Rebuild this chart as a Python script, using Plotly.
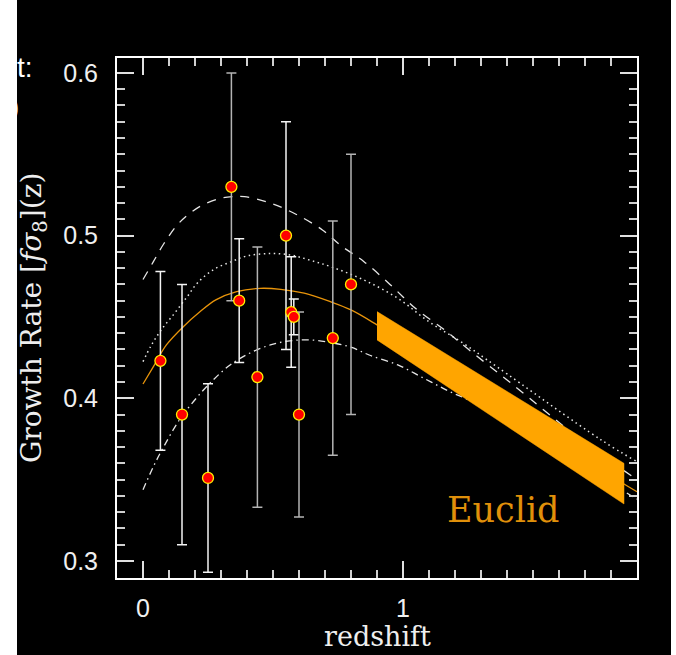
import plotly.graph_objects as go

# ---------------- data ----------------
z_obs = [0.067, 0.15, 0.25, 0.34, 0.37, 0.44, 0.55, 0.57, 0.58, 0.60, 0.73, 0.80]
fs8_obs = [0.423, 0.390, 0.351, 0.530, 0.460, 0.413, 0.500, 0.453, 0.450, 0.390, 0.437, 0.470]
err_obs = [0.055, 0.080, 0.058, 0.070, 0.038, 0.080, 0.070, 0.034, 0.011, 0.063, 0.072, 0.080]
bar_group = ["w", "w", "w", "g", "w", "g", "w", "w", "w", "g", "g", "g"]

z_dashed = [0.0, 0.04, 0.08, 0.14, 0.22, 0.30, 0.35, 0.39, 0.49, 0.59, 0.69, 0.76, 0.85, 0.95,
            1.05, 1.16, 1.26, 1.41, 1.68, 1.9]
fs8_dashed = [0.473, 0.484, 0.495, 0.508, 0.518, 0.523, 0.524, 0.524, 0.520, 0.513, 0.5035, 0.494,
              0.484, 0.470, 0.455, 0.442, 0.429, 0.410, 0.375, 0.350]

z_dotted = [0.0, 0.03, 0.07, 0.12, 0.17, 0.21, 0.27, 0.34, 0.40, 0.49, 0.57, 0.64, 0.72, 0.85,
            0.98, 1.10, 1.23, 1.36, 1.76, 1.9]
fs8_dotted = [0.4225, 0.432, 0.442, 0.452, 0.4625, 0.471, 0.479, 0.484, 0.4875, 0.489, 0.488,
              0.485, 0.481, 0.4727, 0.4615, 0.447, 0.434, 0.4195, 0.3746, 0.361]

z_solid = [0.0, 0.04, 0.09, 0.155, 0.22, 0.28, 0.36, 0.45, 0.53, 0.62, 0.72, 0.80, 0.90, 1.85, 1.9]
fs8_solid = [0.4088, 0.4195, 0.4328, 0.444, 0.4533, 0.4605, 0.4656, 0.4676, 0.467, 0.4646, 0.4594,
             0.4543, 0.4451, 0.3473, 0.3426]

z_dashdot = [0.0, 0.04, 0.08, 0.14, 0.21, 0.27, 0.335, 0.41, 0.49, 0.565, 0.64, 0.72, 0.80, 0.87,
             0.98, 1.08, 1.18, 1.28, 1.39, 1.9]
fs8_dashdot = [0.3437, 0.358, 0.3703, 0.3867, 0.401, 0.4113, 0.4205, 0.4277, 0.4328, 0.4353,
               0.4359, 0.4343, 0.4314, 0.4266, 0.4205, 0.4123, 0.4041, 0.397, 0.3867, 0.338]

band_z = [0.9, 1.85]
band_upper = [0.4533, 0.360]
band_lower = [0.4359, 0.335]

x_ticks = [0, 1]
x_ticklabels = ["0", "1"]
y_ticks = [0.3, 0.4, 0.5, 0.6]
y_ticklabels = ["0.3", "0.4", "0.5", "0.6"]

# ---------------- figure ----------------
fig = go.Figure()

curve_col = "#e6e6e6"
fig.add_trace(go.Scatter(x=z_dashed, y=fs8_dashed, mode="lines", line_shape="spline",
                         line=dict(color=curve_col, width=1.3, dash="9px,8px"), hoverinfo="skip"))
fig.add_trace(go.Scatter(x=z_dotted, y=fs8_dotted, mode="lines", line_shape="spline",
                         line=dict(color=curve_col, width=1.5, dash="1.5px,3.5px"), hoverinfo="skip"))
fig.add_trace(go.Scatter(x=z_solid, y=fs8_solid, mode="lines", line_shape="spline",
                         line=dict(color="#e8940a", width=1.3), hoverinfo="skip"))
fig.add_trace(go.Scatter(x=z_dashdot, y=fs8_dashdot, mode="lines", line_shape="spline",
                         line=dict(color=curve_col, width=1.3, dash="7px,4px,1.5px,4px"), hoverinfo="skip"))

# Euclid band
fig.add_trace(go.Scatter(x=band_z + band_z[::-1], y=band_upper + band_lower[::-1],
                         mode="lines", fill="toself", fillcolor="#ffa500",
                         line=dict(color="#ffa500", width=0.5), hoverinfo="skip"))

# error bars
for grp, col in (("w", "#f4f4f4"), ("g", "#b4b4b4")):
    xs = [z for z, g in zip(z_obs, bar_group) if g == grp]
    ys = [v for v, g in zip(fs8_obs, bar_group) if g == grp]
    es = [e for e, g in zip(err_obs, bar_group) if g == grp]
    fig.add_trace(go.Scatter(x=xs, y=ys, mode="markers",
                             marker=dict(size=1, opacity=0),
                             error_y=dict(type="data", array=es, visible=True, color=col,
                                          thickness=1.5, width=5),
                             hoverinfo="skip"))

fig.add_trace(go.Scatter(x=z_obs, y=fs8_obs, mode="markers",
                         marker=dict(size=11, color="#ff0000", line=dict(color="#ffee00", width=1.3)),
                         hoverinfo="skip"))

L, R, T, B = 117, 39, 58, 77
W, H = 676, 655
pw, ph = W - L - R, H - T - B

axis_common = dict(showline=True, linecolor="#ffffff", linewidth=2, mirror="allticks",
                   ticks="inside", ticklen=17, tickwidth=1.5, tickcolor="#e0e0e0",
                   showgrid=False, zeroline=False,
                   tickfont=dict(family="Liberation Sans", size=25, color="#f0f0f0"))

fig.update_xaxes(range=[-0.1, 1.9], tickmode="array", tickvals=x_ticks, ticktext=x_ticklabels,
                 minor=dict(dtick=0.1, tick0=0, ticks="inside", ticklen=8, tickwidth=1.5,
                            tickcolor="#d0d0d0", showgrid=False),
                 ticklabelstandoff=7, **axis_common)
fig.update_yaxes(range=[0.2895, 0.6092], tickmode="array", tickvals=y_ticks, ticktext=y_ticklabels,
                 minor=dict(dtick=0.01, tick0=0, ticks="inside", ticklen=8, tickwidth=1.5,
                            tickcolor="#d0d0d0", showgrid=False),
                 ticklabelstandoff=12, **axis_common)

annotations = [
    dict(text="Growth Rate [<i>f</i><i>σ</i><sub>8</sub>](z)", xref="paper", yref="paper",
         x=(33 - L) / pw, y=(H - B - 318) / ph, xanchor="center", yanchor="middle", textangle=-90,
         showarrow=False, font=dict(family="DejaVu Serif", size=28, color="#eeeeee")),
    dict(text="redshift", xref="paper", yref="paper",
         x=0.5, y=(H - B - 636) / ph, xanchor="center", yanchor="middle",
         showarrow=False, font=dict(family="DejaVu Serif", size=27, color="#eeeeee")),
    dict(text="Euclid", xref="x", yref="y", x=1.385, y=0.3314, xanchor="center", yanchor="middle",
         showarrow=False, font=dict(family="DejaVu Serif", size=35, color="#e0900a")),
    dict(text="t:", xref="paper", yref="paper", x=(35 - L) / pw, y=(H - B - 67) / ph,
         xanchor="right", yanchor="middle", showarrow=False,
         font=dict(family="Liberation Sans", size=28, color="#ffffff")),
    dict(text=")", xref="paper", yref="paper", x=(21 - L) / pw, y=(H - B - 106) / ph,
         xanchor="right", yanchor="middle", showarrow=False,
         font=dict(family="Liberation Sans", size=28, color="#ffffff")),
]

shapes = [
    dict(type="rect", xref="paper", yref="paper", x0=(0 - L) / pw - 0.01, x1=(17 - L) / pw,
         y0=-0.5, y1=1.5, fillcolor="#ffffff", line=dict(width=0), layer="below"),
    dict(type="rect", xref="paper", yref="paper", x0=(671 - L) / pw, x1=(W - L) / pw + 0.01,
         y0=-0.5, y1=1.5, fillcolor="#ffffff", line=dict(width=0), layer="below"),
]

fig.update_layout(width=W, height=H, margin=dict(l=L, r=R, t=T, b=B, pad=0),
                  paper_bgcolor="#000000", plot_bgcolor="#000000", showlegend=False,
                  annotations=annotations, shapes=shapes)

fig.write_html("out.html")
